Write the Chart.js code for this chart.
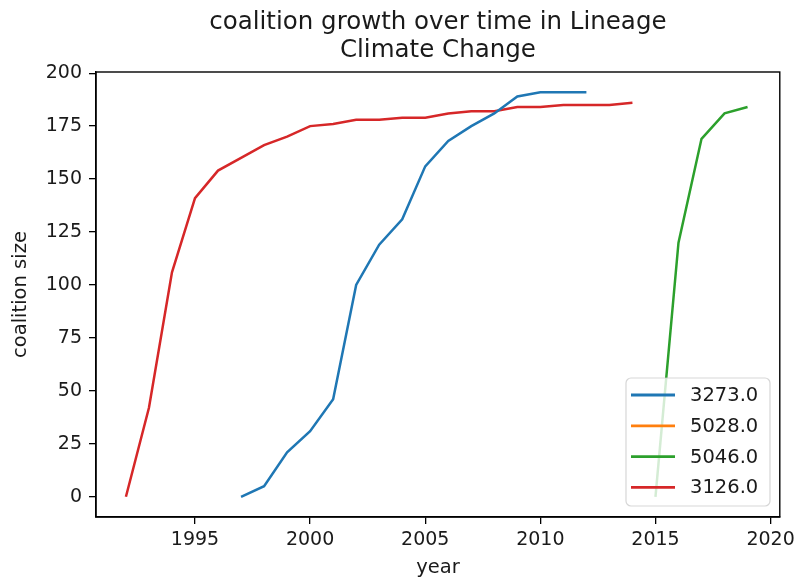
<!DOCTYPE html>
<html><head><meta charset="utf-8">
<script src="https://cdn.jsdelivr.net/npm/chart.js@4"></script>
<style>html,body{margin:0;padding:0;background:#fff}#wrap{width:800px;height:579px;position:relative}</style>
</head><body><div id="wrap"><canvas id="c"></canvas></div>
<script>
const titleLines = ["coalition growth over time in Lineage", "Climate Change"];
const xLabel = "year";
const yLabel = "coalition size";
const seriesNames = ["3273.0", "5028.0", "5046.0", "3126.0"];
const seriesColors = ["#1f77b4", "#ff7f0e", "#2ca02c", "#d62728"];

const years3273 = [1997,1998,1999,2000,2001,2002,2003,2004,2005,2006,2007,2008,2009,2010,2011,2012];
const values3273 = [0,5,21,31,46,100,119,131,156,168,175,181,189,191,191,191];
const years5028 = [];
const values5028 = [];
const years5046 = [2015,2016,2017,2018,2019];
const values5046 = [0,120,169,181,184];
const years3126 = [1992,1993,1994,1995,1996,1997,1998,1999,2000,2001,2002,2003,2004,2005,2006,2007,2008,2009,2010,2011,2012,2013,2014];
const values3126 = [0,42,106,141,154,160,166,170,175,176,178,178,179,179,181,182,182,184,184,185,185,185,186];

const xTicks = [1995, 2000, 2005, 2010, 2015, 2020];
const yTicks = [0, 25, 50, 75, 100, 125, 150, 175, 200];
const xRange = [1990.7, 2020.4];
const yRange = [-9.55, 200.55];

const FONT = "'DejaVu Sans', sans-serif";
const TXT = "#1a1a1a";

function pts(xs, ys) { return xs.map((x, i) => ({x: x, y: ys[i]})); }
const allYears = [years3273, years5028, years5046, years3126];
const allValues = [values3273, values5028, values5046, values3126];

const datasets = seriesNames.map((n, i) => ({
  label: n,
  data: pts(allYears[i], allValues[i]),
  borderColor: seriesColors[i],
  backgroundColor: seriesColors[i],
  borderWidth: 2.5,
  pointRadius: 0,
  tension: 0,
  fill: false
}));

const decor = {
  id: 'decor',
  afterDatasetsDraw(chart) {
    const ctx = chart.ctx, a = chart.chartArea;
    ctx.save();
    ctx.strokeStyle = '#000';
    ctx.lineWidth = 1.4;
    ctx.strokeRect(a.left, a.top, a.right - a.left, a.bottom - a.top);
    const bx = 626, by = 378, bw = 144, bh = 128, r = 5;
    ctx.beginPath();
    ctx.moveTo(bx + r, by);
    ctx.arcTo(bx + bw, by, bx + bw, by + bh, r);
    ctx.arcTo(bx + bw, by + bh, bx, by + bh, r);
    ctx.arcTo(bx, by + bh, bx, by, r);
    ctx.arcTo(bx, by, bx + bw, by, r);
    ctx.closePath();
    ctx.fillStyle = 'rgba(255,255,255,0.8)';
    ctx.fill();
    ctx.strokeStyle = 'rgba(204,204,204,0.8)';
    ctx.lineWidth = 1.2;
    ctx.stroke();
    ctx.font = "19.5px " + FONT;
    ctx.textBaseline = 'middle';
    ctx.textAlign = 'left';
    chart.data.datasets.forEach((d, i) => {
      const y = 395 + i * 30.8;
      ctx.strokeStyle = d.borderColor;
      ctx.lineWidth = 2.8;
      ctx.beginPath();
      ctx.moveTo(631, y);
      ctx.lineTo(675, y);
      ctx.stroke();
      ctx.fillStyle = TXT;
      ctx.fillText(d.label, 690, y + 1);
    });
    ctx.restore();
  },
  afterDraw(chart) {
    const ctx = chart.ctx, a = chart.chartArea;
    ctx.save();
    ctx.fillStyle = TXT;
    ctx.textAlign = 'center';
    ctx.textBaseline = 'alphabetic';
    ctx.font = "24.5px " + FONT;
    const cx = (a.left + a.right) / 2;
    ctx.fillText(titleLines[0], cx, 29);
    ctx.fillText(titleLines[1], cx, 57);
    ctx.font = "19.5px " + FONT;
    ctx.fillText(xLabel, cx, 573);
    ctx.translate(26, (a.top + a.bottom) / 2);
    ctx.rotate(-Math.PI / 2);
    ctx.fillText(yLabel, 0, 0);
    ctx.restore();
  }
};

new Chart(document.getElementById('c'), {
  type: 'line',
  data: { datasets: datasets },
  options: {
    responsive: true,
    maintainAspectRatio: false,
    animation: false,
    layout: { padding: { left: 0, right: 18, top: 72, bottom: 0 } },
    plugins: { legend: { display: false }, title: { display: false }, tooltip: { enabled: false } },
    scales: {
      x: {
        type: 'linear',
        min: xRange[0], max: xRange[1],
        afterBuildTicks: s => { s.ticks = xTicks.map(v => ({value: v})); },
        afterFit: s => { s.height = 62; },
        grid: { drawOnChartArea: false, drawTicks: true, tickLength: 7, color: '#000', lineWidth: 1.3 },
        border: { display: true, color: '#000', width: 1.4 },
        ticks: { color: TXT, font: { family: FONT, size: 19 }, padding: 5, maxRotation: 0, autoSkip: false,
                 callback: v => String(v) }
      },
      y: {
        type: 'linear',
        min: yRange[0], max: yRange[1],
        afterBuildTicks: s => { s.ticks = yTicks.map(v => ({value: v})); },
        afterFit: s => { s.width = 96; },
        grid: { drawOnChartArea: false, drawTicks: true, tickLength: 7, color: '#000', lineWidth: 1.3 },
        border: { display: true, color: '#000', width: 1.4 },
        ticks: { color: TXT, font: { family: FONT, size: 19 }, padding: 7, autoSkip: false,
                 callback: v => String(v) }
      }
    }
  },
  plugins: [decor]
});
</script></body></html>
